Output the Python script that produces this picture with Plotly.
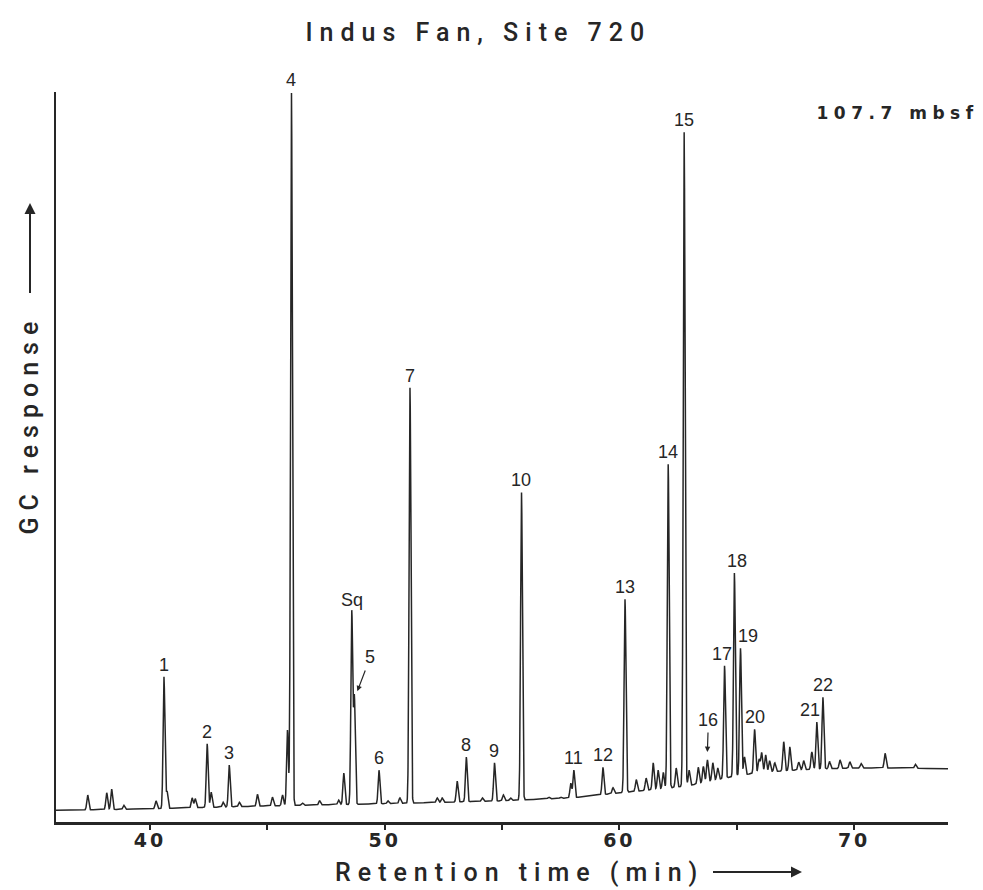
import json
import numpy as np
import plotly.graph_objects as go

# ---------------- data ----------------
# baseline drift of the trace (retention time in min, response in % of peak 4)
base_rt = [36, 40, 45, 50, 55, 58, 60, 62, 63, 64, 65, 66, 68, 70, 72, 74]
base_val = [1.6, 1.8, 2.2, 2.5, 2.9, 3.3, 4.0, 4.6, 5.0, 5.7, 6.3, 6.8, 7.2, 7.4, 7.4, 7.3]

# labelled compounds: name, retention time, peak top
label_names = ["1", "2", "3", "4", "Sq", "5", "6", "7", "8", "9", "10", "11",
               "12", "13", "14", "15", "16", "17", "18", "19", "20", "21", "22"]
label_rt = [40.60, 42.44, 43.38, 46.03, 48.60, 48.71, 49.76, 51.08, 53.48, 54.68,
            55.83, 58.06, 59.30, 60.24, 62.08, 62.76, 63.75, 64.48, 64.90, 65.16,
            65.76, 68.41, 68.67]
label_top = [19.9, 10.7, 7.8, 100.0, 28.8, 17.1, 7.1, 59.5, 8.9, 8.1,
             45.2, 7.1, 7.5, 30.5, 49.0, 94.5, 8.5, 21.4, 34.1, 23.8,
             12.7, 13.7, 17.1]

# unlabelled minor peaks
minor_rt = [37.35, 38.16, 38.37, 38.89, 40.26, 40.73, 41.80, 41.93, 42.61, 43.12,
            43.81, 44.58, 45.22, 45.65, 45.86, 46.50, 47.23, 48.04, 48.26, 50.14,
            50.65, 52.24, 52.45, 53.09, 54.16, 55.06, 55.36, 56.99, 57.50, 57.93,
            59.73, 60.72, 61.14, 61.44, 61.65, 61.87, 62.42, 62.97, 63.36, 63.58,
            63.98, 64.19, 65.33, 65.95, 66.06, 66.23, 66.40, 66.62, 67.00, 67.26,
            67.64, 67.85, 68.20, 68.95, 69.40, 69.82, 70.30, 71.32, 72.61]
minor_top = [3.7, 4.0, 4.5, 2.3, 2.9, 4.2, 3.3, 3.2, 4.1, 2.7,
             2.7, 3.8, 3.4, 3.7, 12.6, 2.6, 2.9, 3.0, 6.7, 2.9,
             3.3, 3.3, 3.3, 5.6, 3.3, 3.7, 3.3, 3.4, 3.4, 5.3,
             4.7, 5.8, 6.0, 8.1, 7.1, 6.8, 7.4, 7.1, 7.5, 7.6,
             8.1, 7.4, 8.9, 8.6, 9.5, 9.2, 8.4, 8.1, 11.0, 10.3,
             8.2, 8.4, 9.6, 8.3, 8.5, 8.2, 8.0, 9.4, 7.9]

x_ticks = [40, 45, 50, 55, 60, 65, 70]
x_ticktext = ["40", "", "50", "", "60", "", "70"]

# ---------------- trace built from the peak table ----------------
PEAK_SIGMA = 0.038
rt_all = np.array(label_rt + minor_rt)
top_all = np.array(label_top + minor_top)
t = np.arange(36.0, 74.0001, 0.004)
signal = np.interp(t, base_rt, base_val)
amp = top_all - np.interp(rt_all, base_rt, base_val)
for r, a in zip(rt_all, amp):
    signal = signal + a * np.exp(-0.5 * ((t - r) / PEAK_SIGMA) ** 2)

INK = "#262626"
fig = go.Figure()
fig.add_trace(go.Scatter(x=t, y=signal, mode="lines",
                         line=dict(color=INK, width=1.5),
                         hoverinfo="skip", showlegend=False))

# ---------------- layout geometry ----------------
W, H = 983, 890
ML, MR, MT, MB = 56, 35, 92, 68
PW, PH = W - ML - MR, H - MT - MB


def px(xp):
    return (xp - ML) / PW


def py(yp):
    return (H - MB - yp) / PH


lab_font = dict(family="Liberation Sans, Arial, sans-serif", size=18, color=INK)
xshift = {"17": -3, "18": 3, "19": 8, "21": -7, "22": 0, "Sq": 0}
ann = []
for name, r, h in zip(label_names, label_rt, label_top):
    if name == "5":
        ann.append(dict(x=r, y=h, xref="x", yref="y", text=name, font=lab_font,
                        showarrow=True, arrowhead=2, arrowsize=0.9, arrowwidth=1.2,
                        arrowcolor=INK, ax=13, ay=-34, xshift=3, yshift=6,
                        standoff=0, startstandoff=2))
    elif name == "16":
        ann.append(dict(x=r, y=h, xref="x", yref="y", text=name, font=lab_font,
                        showarrow=True, arrowhead=2, arrowsize=0.9, arrowwidth=1.2,
                        arrowcolor=INK, ax=1, ay=-32, yshift=8,
                        standoff=0, startstandoff=1))
    else:
        ann.append(dict(x=r, y=h, xref="x", yref="y", text=name, font=lab_font,
                        showarrow=False, yanchor="bottom", xanchor="center",
                        xshift=xshift.get(name, 0), yshift=0))

title_font = dict(family="Roboto, Liberation Sans, Arial, sans-serif", size=25,
                  color=INK, weight=500)
ann.append(dict(x=px(478), y=py(33), xref="paper", yref="paper",
                text="Indus Fan, Site 720", showarrow=False, font=title_font,
                xanchor="center", yanchor="middle"))
ann.append(dict(x=px(519), y=py(872), xref="paper", yref="paper",
                text="Retention time (min)", showarrow=False, font=title_font,
                xanchor="center", yanchor="middle"))
ann.append(dict(x=px(802), y=py(872), xref="paper", yref="paper", text=" ",
                showarrow=True, arrowhead=2, arrowsize=1.1, arrowwidth=2,
                arrowcolor=INK, ax=-92, ay=0, standoff=0, startstandoff=0))
ann.append(dict(x=px(30), y=py(425), xref="paper", yref="paper",
                text="GC response", showarrow=False, font=title_font,
                textangle=-90, xanchor="center", yanchor="middle"))
ann.append(dict(x=px(30), y=py(203), xref="paper", yref="paper", text=" ",
                showarrow=True, arrowhead=2, arrowsize=1.1, arrowwidth=2,
                arrowcolor=INK, ax=0, ay=100, standoff=0, startstandoff=0))
ann.append(dict(x=px(898), y=py(113), xref="paper", yref="paper",
                text="107.7 mbsf", showarrow=False,
                font=dict(family="DejaVu Sans, sans-serif", size=17, color=INK,
                          weight="bold"),
                xanchor="center", yanchor="middle"))

fig.update_layout(
    width=W, height=H, autosize=False,
    margin=dict(l=ML, r=MR, t=MT, b=MB, pad=0),
    paper_bgcolor="white", plot_bgcolor="white",
    annotations=ann,
    xaxis=dict(range=[36, 74], tickmode="array", tickvals=x_ticks,
               ticktext=x_ticktext, ticks="outside", ticklen=5, tickwidth=2,
               tickcolor=INK, showline=True, linewidth=2.5, linecolor=INK,
               showgrid=False, zeroline=False, ticklabelstandoff=-6,
               tickfont=dict(family="DejaVu Sans, sans-serif", size=19,
                             color=INK, weight="bold")),
    yaxis=dict(range=[0, 100], showline=True, linewidth=2, linecolor=INK,
               showticklabels=False, ticks="", showgrid=False, zeroline=False),
)

# wide letter tracking of the original lettering
spacing = {"Indus Fan, Site 720": 7.0, "Retention time (min)": 7.0,
           "GC response": 7, "107.7 mbsf": 5.5, "40": 3, "50": 3, "60": 3, "70": 3}
post = """
var gd = document.getElementById('{plot_id}');
var SP = %s;
function track(){
  gd.querySelectorAll('text').forEach(function(t){
    var v = SP[t.textContent];
    if (v !== undefined) { t.style.letterSpacing = v + 'px'; }
  });
}
track();
gd.on('plotly_afterplot', track);
""" % json.dumps(spacing)

fig.write_html("out.html", post_script=post)
